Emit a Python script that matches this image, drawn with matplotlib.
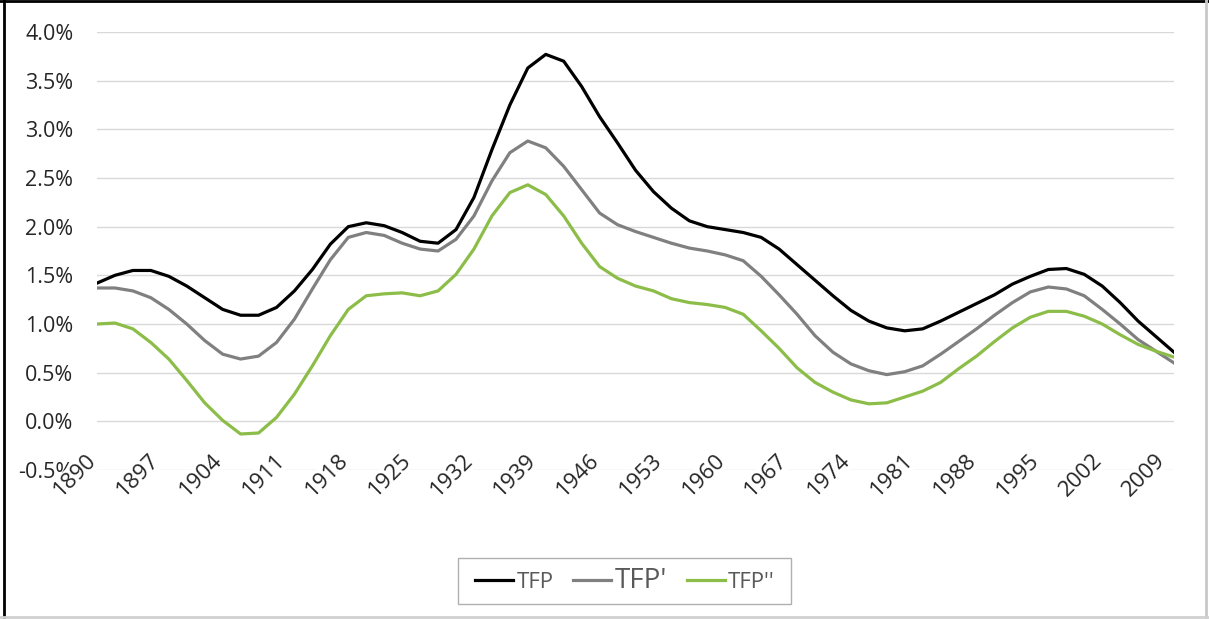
import numpy as np
import matplotlib.pyplot as plt
from matplotlib.lines import Line2D
from matplotlib.patches import Rectangle
from matplotlib.ticker import FuncFormatter
import matplotlib.transforms as mtransforms

plt.rcParams['font.family'] = ['Open Sans', 'DejaVu Sans']

# datos (cada 2 anos)
years = list(range(1890, 2011, 2))
tfp = [1.42, 1.50, 1.55, 1.55, 1.49, 1.39, 1.27, 1.15, 1.09, 1.09,
       1.17, 1.34, 1.56, 1.82, 2.00, 2.04, 2.01, 1.94, 1.85, 1.83,
       1.97, 2.30, 2.79, 3.25, 3.63, 3.77, 3.70, 3.44, 3.13, 2.86,
       2.58, 2.36, 2.19, 2.06, 2.00, 1.97, 1.94, 1.89, 1.77, 1.61,
       1.45, 1.29, 1.14, 1.03, 0.96, 0.93, 0.95, 1.03, 1.12, 1.21,
       1.30, 1.41, 1.49, 1.56, 1.57, 1.51, 1.39, 1.22, 1.03, 0.87,
       0.71]
tfp1 = [1.37, 1.37, 1.34, 1.27, 1.15, 1.00, 0.83, 0.69, 0.64, 0.67,
        0.81, 1.05, 1.36, 1.66, 1.89, 1.94, 1.91, 1.83, 1.77, 1.75,
        1.87, 2.11, 2.47, 2.76, 2.88, 2.81, 2.62, 2.38, 2.14, 2.02,
        1.95, 1.89, 1.83, 1.78, 1.75, 1.71, 1.65, 1.49, 1.30, 1.10,
        0.88, 0.71, 0.59, 0.52, 0.48, 0.51, 0.57, 0.69, 0.82, 0.95,
        1.09, 1.22, 1.33, 1.38, 1.36, 1.29, 1.15, 1.00, 0.84, 0.72,
        0.60]
tfp2 = [1.00, 1.01, 0.95, 0.81, 0.64, 0.42, 0.19, 0.01, -0.13, -0.12,
        0.04, 0.28, 0.57, 0.88, 1.15, 1.29, 1.31, 1.32, 1.29, 1.34,
        1.51, 1.77, 2.11, 2.35, 2.43, 2.33, 2.11, 1.83, 1.59, 1.47,
        1.39, 1.34, 1.26, 1.22, 1.20, 1.17, 1.10, 0.93, 0.75, 0.55,
        0.40, 0.30, 0.22, 0.18, 0.19, 0.25, 0.31, 0.40, 0.54, 0.67,
        0.82, 0.96, 1.07, 1.13, 1.13, 1.08, 1.00, 0.89, 0.79, 0.72,
        0.66]
xticks = list(range(1890, 2010, 7))
labels = ["TFP", "TFP'", "TFP''"]

fig = plt.figure(figsize=(12.09, 6.19), dpi=100)
ax = fig.add_axes([97/1209, 1-470/619, (1174-97)/1209, (470-32)/619])

ax.plot(years, tfp, color='black', lw=2.3, label=labels[0])
ax.plot(years, tfp1, color='#808080', lw=2.3, label=labels[1])
ax.plot(years, tfp2, color='#8cbd48', lw=2.3, label=labels[2])

ax.set_xlim(1890, 2010)
ax.set_ylim(-0.5, 4.0)
ax.set_yticks(np.arange(-0.5, 4.01, 0.5))
ax.yaxis.set_major_formatter(FuncFormatter(lambda v, p: f"{v:.1f}%"))
ax.set_xticks(xticks)
ax.grid(axis='y', color='#d9d9d9', lw=1)
ax.set_axisbelow(True)
for s in ax.spines.values():
    s.set_visible(False)
ax.tick_params(axis='both', length=0, labelsize=15.5, colors='#262626')
ax.tick_params(axis='x', labelsize=16, pad=0)
ax.tick_params(axis='y', pad=17)

# etiquetas rotadas como en excel
off = mtransforms.ScaledTranslation(-21.5/100, -5/100, fig.dpi_scale_trans)
for t in ax.get_xticklabels():
    t.set_rotation(45)
    t.set_ha('center')
    t.set_va('center')
    t.set_rotation_mode('anchor')
    t.set_transform(t.get_transform() + off)
    t.set_bbox(dict(facecolor='white', edgecolor='none', pad=0.5))
ax.xaxis.set_zorder(3)

leg = fig.legend(loc='center', bbox_to_anchor=(625/1209, 1-581/619), ncol=3,
                 frameon=False, fontsize=16, handlelength=1.7,
                 handletextpad=0.15, columnspacing=0.9)
for t in leg.get_texts():
    t.set_color('#595959')
leg.get_texts()[1].set_fontsize(20)
fig.add_artist(Rectangle((458/1209, 1-604/619), (791-458)/1209, 46/619,
                         transform=fig.transFigure, fill=False,
                         edgecolor='#b0b0b0', lw=1.0))

# marco de la imagen
fig.add_artist(Line2D([0.003, 0.003], [0, 1], color='black', lw=2, transform=fig.transFigure))
fig.add_artist(Line2D([0, 1], [0.998, 0.998], color='black', lw=2, transform=fig.transFigure))
fig.add_artist(Line2D([0.9975, 0.9975], [0, 1], color='#c8c8c8', lw=2, transform=fig.transFigure))
fig.add_artist(Line2D([0, 1], [0.004, 0.004], color='#d0d0d0', lw=2, transform=fig.transFigure))

fig.savefig('out.png', dpi=100)
